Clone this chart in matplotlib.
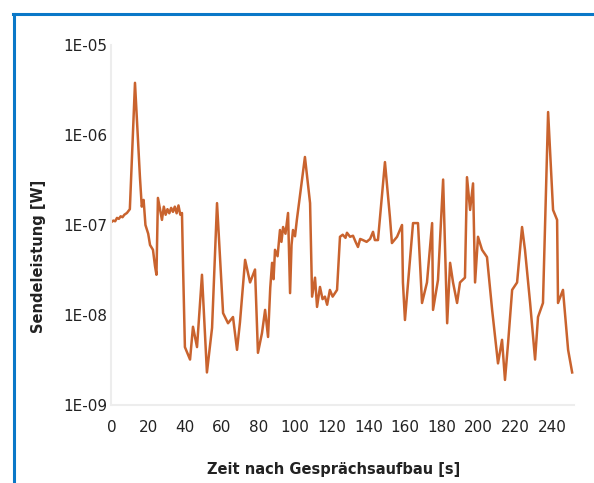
import matplotlib
matplotlib.use("Agg")
import matplotlib.pyplot as plt
from matplotlib.lines import Line2D

# Sendeleistung über der Zeit
time_s = [0, 1, 2, 3, 4, 5, 6, 7, 8.4, 10, 12.8, 15.5, 16.5, 17.5, 18.5, 20,
          21, 22.6, 23.7, 24.5, 25.3, 27.5, 28.5, 29.5, 30.5, 31.5, 32.5,
          33.5, 34.5, 35.5, 36.5, 37.5, 38.4, 39, 40, 42.8, 44.4, 46.6, 49.3,
          52, 54.8, 57.5, 60.8, 63.5, 66.2, 68.4, 70, 72.8, 75.5, 78.2, 79.8,
          82, 83.7, 85.3, 86.5, 87.5, 88.3, 89.1, 90.5, 91.8, 92.6, 93.5,
          94.8, 96.2, 97.3, 98.1, 98.9, 100, 101, 105.4, 108.2, 109.3, 110.9,
          112, 113.6, 115, 116.3, 117.5, 119, 120.5, 122.9, 124.5, 126,
          127.5, 128.3, 130, 131.6, 133, 134.3, 135.5, 137, 139, 140.9,
          142.5, 143.5, 145.2, 149, 151.7, 152.8, 155.6, 158.3, 158.8, 159.9,
          161.6, 164.3, 167, 169.2, 171.9, 174.7, 175.2, 177.9, 180.7, 182.9,
          184.5, 186.1, 188.3, 189.9, 192.6, 193.7, 195.4, 197, 198.1, 199.7,
          201.9, 204.6, 207.4, 209, 210.6, 212.8, 214.4, 216.1, 218.3, 221,
          223.7, 225.3, 228.1, 230.8, 232.4, 235.1, 237.9, 240.6, 242.8,
          243.3, 246, 248.8, 251]
power_w = [1.08e-7, 1.12e-7, 1.1e-7, 1.2e-7, 1.17e-7, 1.25e-7, 1.22e-7,
           1.3e-7, 1.36e-7, 1.5e-7, 3.8e-6, 3.4e-7, 1.6e-7, 1.9e-7, 1.0e-7,
           8.0e-8, 6.0e-8, 5.3e-8, 3.5e-8, 2.8e-8, 2.0e-7, 1.14e-7, 1.6e-7,
           1.3e-7, 1.5e-7, 1.35e-7, 1.55e-7, 1.4e-7, 1.6e-7, 1.35e-7,
           1.65e-7, 1.3e-7, 1.36e-7, 3.4e-8, 4.4e-9, 3.2e-9, 7.4e-9, 4.4e-9,
           2.8e-8, 2.3e-9, 7.2e-9, 1.75e-7, 1.05e-8, 8.1e-9, 9.5e-9, 4.1e-9,
           8.3e-9, 4.1e-8, 2.3e-8, 3.2e-8, 3.8e-9, 6.3e-9, 1.14e-8, 5.7e-9,
           2.0e-8, 3.8e-8, 2.5e-8, 5.3e-8, 4.5e-8, 8.8e-8, 6.5e-8, 9.5e-8,
           8.0e-8, 1.36e-7, 1.75e-8, 6.0e-8, 8.8e-8, 7.5e-8, 1.14e-7, 5.7e-7,
           1.75e-7, 1.6e-8, 2.6e-8, 1.23e-8, 2.05e-8, 1.5e-8, 1.6e-8, 1.3e-8,
           1.9e-8, 1.6e-8, 1.9e-8, 7.4e-8, 7.8e-8, 7.2e-8, 8.2e-8, 7.4e-8,
           7.6e-8, 6.5e-8, 5.7e-8, 7.0e-8, 6.8e-8, 6.5e-8, 7.0e-8, 8.4e-8,
           6.8e-8, 6.8e-8, 5.0e-7, 1.23e-7, 6.3e-8, 7.4e-8, 1.0e-7, 2.3e-8,
           8.8e-9, 2.3e-8, 1.05e-7, 1.05e-7, 1.36e-8, 2.3e-8, 1.05e-7,
           1.14e-8, 2.45e-8, 3.2e-7, 8.1e-9, 3.8e-8, 2.3e-8, 1.36e-8, 2.3e-8,
           2.6e-8, 3.4e-7, 1.47e-7, 2.9e-7, 2.3e-8, 7.4e-8, 5.3e-8, 4.4e-8,
           1.14e-8, 5.7e-9, 2.9e-9, 5.3e-9, 1.9e-9, 4.9e-9, 1.9e-8, 2.3e-8,
           9.5e-8, 5.3e-8, 1.36e-8, 3.2e-9, 9.5e-9, 1.36e-8, 1.8e-6, 1.47e-7,
           1.14e-7, 1.36e-8, 1.9e-8, 4.1e-9, 2.3e-9]

x_ticks = list(range(0, 241, 20))
y_ticks = [1e-9, 1e-8, 1e-7, 1e-6, 1e-5]
y_tick_labels = ["1E-09", "1E-08", "1E-07", "1E-06", "1E-05"]

fig = plt.figure(figsize=(5.94, 4.83), dpi=100)
ax = fig.add_axes([0.1877, 0.1615, 0.7786, 0.7453])

ax.plot(time_s, power_w, color="#C9632E", lw=1.8, solid_joinstyle="round")

ax.set_yscale("log")
ax.set_ylim(1e-9, 1e-5)
ax.set_xlim(0, 252)
ax.set_yticks(y_ticks)
ax.set_yticklabels(y_tick_labels)
ax.minorticks_off()
ax.set_xticks(x_ticks)
ax.tick_params(axis="both", length=0, labelsize=11, colors="#222222")
ax.tick_params(axis="x", pad=11)
ax.tick_params(axis="y", pad=3)

for side in ["top", "right"]:
    ax.spines[side].set_visible(False)
for side in ["left", "bottom"]:
    ax.spines[side].set_color("#ededed")
    ax.spines[side].set_linewidth(1.5)

ax.set_xlabel("Zeit nach Gesprächsaufbau [s]", fontsize=10.5, fontweight="bold",
              color="#222222")
ax.set_ylabel("Sendeleistung [W]", fontsize=10.5, fontweight="bold",
              color="#222222")
ax.xaxis.set_label_coords(0.48, -0.158)
ax.yaxis.set_label_coords(-0.1416, 0.414)

# blue frame, left and top only
W, H = 594, 483
fig.add_artist(Line2D([13.5 / W, 13.5 / W], [0, 1 - 13.5 / H],
                      transform=fig.transFigure, color="#0A78C8", lw=2.2))
fig.add_artist(Line2D([12.5 / W, 1], [1 - 13.5 / H, 1 - 13.5 / H],
                      transform=fig.transFigure, color="#0A78C8", lw=2.2))

fig.savefig("out.png", dpi=100)
